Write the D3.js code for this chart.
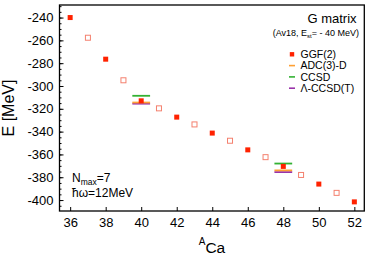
<!DOCTYPE html>
<html>
<head>
<meta charset="utf-8">
<script src="https://d3js.org/d3.v7.min.js"></script>
<style>
  body { margin: 0; background: #fff; }
  svg { font-family: "Liberation Sans", Arial, sans-serif; }
</style>
</head>
<body>
<div id="chart"></div>
<script>
// even-A GGF(2) results (filled squares)
const evenA = [36, 38, 40, 42, 44, 46, 48, 50, 52];
const evenE = [-240, -276.5, -313, -327.3, -341.3, -356, -370.5, -386, -401.6];
// odd-A GGF(2) results (open squares)
const oddA = [37, 39, 41, 43, 45, 47, 49, 51];
const oddE = [-257.7, -295, -319.6, -333.7, -348, -362.4, -378, -393.7];
// coupled cluster / ADC reference values at 40Ca and 48Ca
const refA = [40, 48];
const adcE = [-314.5, -374];
const ccsdE = [-308.6, -368];
const lccsdtE = [-315.5, -375.5];

const yTicks = [-400, -380, -360, -340, -320, -300, -280, -260, -240];
const xTicks = [36, 38, 40, 42, 44, 46, 48, 50, 52];

const width = 370, height = 261;
const m = { left: 59.5, right: 5.7, top: 5, bottom: 50 };

const svg = d3.select('#chart').append('svg')
  .attr('width', width).attr('height', height);

const x = d3.scaleLinear().domain([35.4, 52.56]).range([m.left, width - m.right]);
const y = d3.scaleLinear().domain([-409.6, -229]).range([height - m.bottom, m.top]);

const red = '#ff2200', pale = '#f4806e';
const cOrange = '#ffa033', cGreen = '#33b233', cPurple = '#9933aa';

// axes (ticks pointing inward)
const yAxis = d3.axisLeft(y).tickValues(yTicks).tickSize(-4).tickPadding(6).tickFormat(d => String(d));
const yMinor = d3.axisLeft(y).tickValues(d3.range(-405, -229, 5)).tickSize(-2).tickFormat('');
const xAxis = d3.axisBottom(x).tickValues(xTicks).tickSize(-4).tickPadding(7);

svg.append('g').attr('transform', `translate(${m.left},0)`).call(yMinor)
  .call(g => g.select('.domain').remove());
svg.append('g').attr('transform', `translate(${m.left},0)`).call(yAxis)
  .call(g => g.select('.domain').remove())
  .call(g => g.selectAll('text').style('font-size', '13px').attr('fill', '#000'));
svg.append('g').attr('transform', `translate(0,${height - m.bottom})`).call(xAxis)
  .call(g => g.select('.domain').remove())
  .call(g => g.selectAll('text').style('font-size', '13px').attr('fill', '#000'));

// frame
svg.append('rect')
  .attr('x', m.left).attr('y', m.top)
  .attr('width', width - m.left - m.right).attr('height', height - m.top - m.bottom)
  .attr('fill', 'none').attr('stroke', '#000').attr('stroke-width', 1.3);

// reference lines
const drawRef = (vals, color) => {
  svg.append('g').selectAll('line').data(refA).join('line')
    .attr('x1', (d) => x(d - 0.5)).attr('x2', (d) => x(d + 0.5))
    .attr('y1', (d, i) => y(vals[i])).attr('y2', (d, i) => y(vals[i]))
    .attr('stroke', color).attr('stroke-width', 1.8);
};
drawRef(ccsdE, cGreen);
drawRef(lccsdtE, cPurple);
drawRef(adcE, cOrange);

// squares
const s = 5;
svg.append('g').selectAll('rect').data(oddA).join('rect')
  .attr('x', d => x(d) - s / 2).attr('y', (d, i) => y(oddE[i]) - s / 2)
  .attr('width', s).attr('height', s)
  .attr('fill', '#fff').attr('stroke', pale).attr('stroke-width', 1);
svg.append('g').selectAll('rect').data(evenA).join('rect')
  .attr('x', d => x(d) - s / 2).attr('y', (d, i) => y(evenE[i]) - s / 2)
  .attr('width', s).attr('height', s)
  .attr('fill', red);

// annotation texts
svg.append('text').attr('x', 332).attr('y', 22.5).attr('text-anchor', 'middle')
  .style('font-size', '13px').text('G matrix');
const sub = svg.append('text').attr('x', 359).attr('y', 35.5).attr('text-anchor', 'end')
  .style('font-size', '9px');
sub.append('tspan').text('(Av18, E');
sub.append('tspan').attr('dy', 2).style('font-size', '6px').text('st');
sub.append('tspan').attr('dy', -2).text('= - 40 MeV)');

// legend
const legend = [
  { label: 'GGF(2)', color: red, type: 'square' },
  { label: 'ADC(3)-D', color: cOrange, type: 'line' },
  { label: 'CCSD', color: cGreen, type: 'line' },
  { label: 'Λ-CCSD(T)', color: cPurple, type: 'line' }
];
const lg = svg.append('g').selectAll('g').data(legend).join('g')
  .attr('transform', (d, i) => `translate(292,${54.3 + i * 11.3})`);
lg.filter(d => d.type === 'square').append('rect')
  .attr('x', -2.2).attr('y', -2.2).attr('width', 4.4).attr('height', 4.4).attr('fill', d => d.color);
lg.filter(d => d.type === 'line').append('line')
  .attr('x1', -3).attr('x2', 3).attr('stroke', d => d.color).attr('stroke-width', 1.6);
lg.append('text').attr('x', 8.5).attr('y', 3.8).style('font-size', '10.5px').text(d => d.label);

const n = svg.append('text').attr('x', 72).attr('y', 181.5).style('font-size', '12px');
n.append('tspan').text('N');
n.append('tspan').attr('dy', 3).style('font-size', '8.5px').text('max');
n.append('tspan').attr('dy', -3).text('=7');
svg.append('text').attr('x', 72).attr('y', 196.5).style('font-size', '12px').text('ħω=12MeV');

// axis titles
svg.append('text').attr('transform', 'translate(13.5,108) rotate(-90)')
  .attr('text-anchor', 'middle').style('font-size', '16px').text('E [MeV]');
const xl = svg.append('text').attr('x', 212).attr('y', 252.5).attr('text-anchor', 'middle')
  .style('font-size', '15.5px');
xl.append('tspan').attr('dy', -8).style('font-size', '10px').text('A');
xl.append('tspan').attr('dy', 8).text('Ca');
</script>
</body>
</html>
